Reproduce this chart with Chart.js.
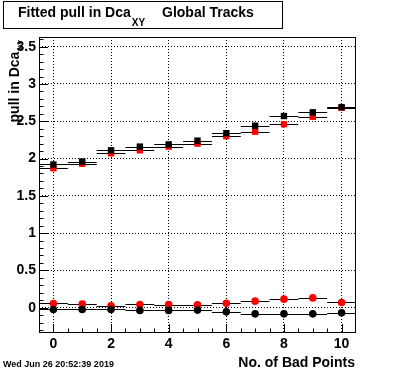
<!DOCTYPE html>
<html>
<head>
<meta charset="utf-8">
<script src="https://cdn.jsdelivr.net/npm/chart.js@4/dist/chart.umd.min.js"></script>
<style>
  body { margin: 0; background: #fff; }
  canvas { display: block; }
</style>
</head>
<body>
<canvas id="pullChart" width="396" height="372"></canvas>
<script>
// number of bad points (bin centres)
var badPoints = [0, 1, 2, 3, 4, 5, 6, 7, 8, 9, 10];

// fitted sigma of the pull, two track samples
var sigmaBlack = [1.92, 1.96, 2.11, 2.16, 2.19, 2.24, 2.34, 2.44, 2.57, 2.62, 2.69];
var sigmaRed   = [1.87, 1.93, 2.07, 2.11, 2.16, 2.20, 2.30, 2.36, 2.46, 2.56, 2.68];

// fitted mean of the pull
var meanBlack = [-0.024, -0.024, -0.024, -0.037, -0.037, -0.033, -0.056, -0.083, -0.083, -0.083, -0.069];
var meanRed   = [0.056, 0.047, 0.024, 0.043, 0.040, 0.037, 0.060, 0.087, 0.114, 0.131, 0.070];

var xTicks = [0, 2, 4, 6, 8, 10];
var yTicks = [0, 0.5, 1, 1.5, 2, 2.5, 3, 3.5];

function points(vals) {
    var out = [];
    for (var i = 0; i < badPoints.length; i++) {
        out.push({x: badPoints[i], y: vals[i]});
    }
    return out;
}

var FONT = "'Liberation Sans', Arial, Helvetica, sans-serif";

// horizontal bin-width bars, inside ticks, frame and the texts
var rootStyle = {
    id: 'rootStyle',
    beforeDatasetsDraw: function(chart) {
        var ctx = chart.ctx, xs = chart.scales.x, ys = chart.scales.y, a = chart.chartArea;
        ctx.save();
        ctx.beginPath();
        ctx.rect(a.left, a.top, a.right - a.left, a.bottom - a.top);
        ctx.clip();
        ctx.strokeStyle = '#000';
        ctx.lineWidth = 1;
        chart.data.datasets.forEach(function(ds) {
            ds.data.forEach(function(p) {
                var y = Math.round(ys.getPixelForValue(p.y)) + 0.5;
                ctx.beginPath();
                ctx.moveTo(xs.getPixelForValue(p.x - 0.5), y);
                ctx.lineTo(xs.getPixelForValue(p.x + 0.5), y);
                ctx.stroke();
            });
        });
        ctx.restore();
    },
    afterDraw: function(chart) {
        var ctx = chart.ctx, xs = chart.scales.x, ys = chart.scales.y, a = chart.chartArea;
        ctx.save();
        ctx.strokeStyle = '#000';
        ctx.lineWidth = 1;

        // frame
        ctx.strokeRect(Math.round(a.left) + 0.5, Math.round(a.top) + 0.5,
                       Math.round(a.right - a.left) - 1, Math.round(a.bottom - a.top) - 1);

        // y ticks: minor every 0.1, major every 0.5
        ctx.beginPath();
        for (var k = -3; k <= 36; k++) {
            var v = k / 10;
            var py = Math.round(ys.getPixelForValue(v)) + 0.5;
            if (py < a.top || py > a.bottom) continue;
            var len = (k % 5 === 0) ? 9 : 4.5;
            ctx.moveTo(a.left, py);
            ctx.lineTo(a.left + len, py);
        }
        // x ticks: minor every 0.5, major every 2
        for (var j = -1; j <= 21; j++) {
            var xv = j / 2;
            var px = Math.round(xs.getPixelForValue(xv)) + 0.5;
            if (px <= a.left || px >= a.right) continue;
            var l2 = (j % 4 === 0) ? 9 : 4.5;
            ctx.moveTo(px, a.bottom);
            ctx.lineTo(px, a.bottom - l2);
        }
        ctx.stroke();

        // title box
        ctx.fillStyle = '#fff';
        ctx.fillRect(3, 1, 279, 27);
        ctx.strokeRect(3.5, 1.5, 279, 27);
        ctx.fillStyle = '#000';
        ctx.textBaseline = 'alphabetic';
        ctx.textAlign = 'left';
        ctx.font = 'bold 14px ' + FONT;
        var t1 = 'Fitted pull in Dca';
        ctx.fillText(t1, 18, 17);
        var w1 = ctx.measureText(t1).width;
        ctx.font = 'bold 10px ' + FONT;
        ctx.fillText('XY', 18 + w1 + 1, 26);
        ctx.font = 'bold 14px ' + FONT;
        ctx.fillText('Global Tracks', 162, 17);

        // y axis title
        ctx.save();
        ctx.translate(19, 40);
        ctx.rotate(-Math.PI / 2);
        ctx.textAlign = 'right';
        ctx.font = 'bold 8px ' + FONT;
        var sub = 'XY';
        ctx.fillText(sub, 0, 4);
        var ws = ctx.measureText(sub).width;
        ctx.font = 'bold 14px ' + FONT;
        ctx.fillText('pull in Dca', -ws - 1, 0);
        ctx.restore();

        // x axis title
        ctx.textAlign = 'right';
        ctx.font = 'bold 14px ' + FONT;
        ctx.fillText('No. of Bad Points', 355, 367);

        // date stamp
        ctx.textAlign = 'left';
        ctx.font = 'bold 9px ' + FONT;
        ctx.fillText('Wed Jun 26 20:52:39 2019', 3, 367);
        ctx.restore();
    }
};

new Chart(document.getElementById('pullChart'), {
    type: 'scatter',
    data: {
        datasets: [
            {label: 'sigma black', data: points(sigmaBlack), pointStyle: 'rect', pointRadius: 4.5,
             backgroundColor: '#000', borderColor: '#000', borderWidth: 0},
            {label: 'sigma red', data: points(sigmaRed), pointStyle: 'rect', pointRadius: 4.5,
             backgroundColor: '#ff0000', borderColor: '#ff0000', borderWidth: 0},
            {label: 'mean black', data: points(meanBlack), pointStyle: 'circle', pointRadius: 3.8,
             backgroundColor: '#000', borderColor: '#000', borderWidth: 0},
            {label: 'mean red', data: points(meanRed), pointStyle: 'circle', pointRadius: 3.8,
             backgroundColor: '#ff0000', borderColor: '#ff0000', borderWidth: 0}
        ]
    },
    options: {
        responsive: false,
        animation: false,
        layout: { padding: { left: 0, top: 37, right: 40, bottom: 0 } },
        plugins: {
            legend: { display: false },
            title: { display: false },
            tooltip: { enabled: false }
        },
        scales: {
            x: {
                type: 'linear',
                min: -0.5,
                max: 10.5,
                afterFit: function(s) { s.height = 39; },
                afterBuildTicks: function(s) { s.ticks = xTicks.map(function(v) { return {value: v}; }); },
                ticks: {
                    color: '#000',
                    padding: 3,
                    maxRotation: 0,
                    font: { family: FONT, weight: 'bold', size: 14 },
                    callback: function(v) { return String(v); }
                },
                grid: { color: '#000', lineWidth: 1, drawTicks: false },
                border: { display: false, dash: [1, 2] }
            },
            y: {
                type: 'linear',
                min: -0.34,
                max: 3.63,
                afterFit: function(s) { s.width = 39; },
                afterBuildTicks: function(s) { s.ticks = yTicks.map(function(v) { return {value: v}; }); },
                ticks: {
                    color: '#000',
                    padding: 3,
                    font: { family: FONT, weight: 'bold', size: 14 },
                    callback: function(v) { return String(v); }
                },
                grid: { color: '#000', lineWidth: 1, drawTicks: false },
                border: { display: false, dash: [1, 2] }
            }
        }
    },
    plugins: [rootStyle]
});
</script>
</body>
</html>
